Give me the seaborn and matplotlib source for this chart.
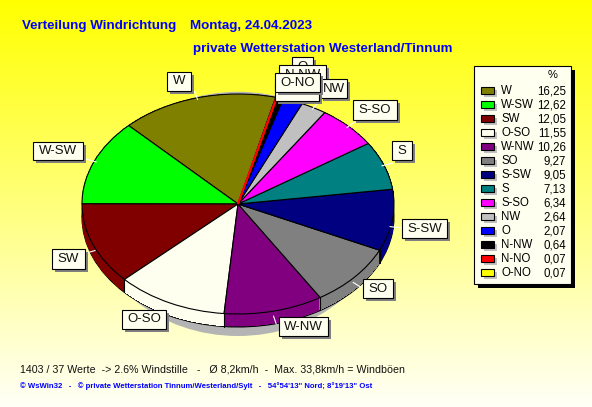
import numpy as np
import matplotlib
matplotlib.use("Agg")
import matplotlib.pyplot as plt
from matplotlib.patches import Rectangle, Ellipse
import seaborn as sns

richtung = ["W", "W-SW", "SW", "O-SO", "W-NW", "SO", "S-SW", "S", "S-SO", "NW", "O", "N-NW", "N-NO", "O-NO"]
prozent = [16.25, 12.62, 12.05, 11.55, 10.26, 9.27, 9.05, 7.13, 6.34, 2.64, 2.07, 0.64, 0.07, 0.07]
prozent_text = ["16,25", "12,62", "12,05", "11,55", "10,26", "9,27", "9,05", "7,13", "6,34", "2,64", "2,07", "0,64", "0,07", "0,07"]
farben = ["#808000", "#00ff00", "#800000", "#fffff0", "#800080", "#808080", "#000080",
          "#008080", "#ff00ff", "#c0c0c0", "#0000ff", "#000000", "#ff0000", "#ffff00"]

# label boxes in pixels: left, top, width, height (drawn in this order)
label_boxes = {
    "O": (292, 57, 21, 19), "N-NW": (279, 65, 47, 19), "NW": (320, 79, 27, 19),
    "N-NO": (275, 82, 44, 19), "O-NO": (275, 73, 45, 19), "S-SO": (353, 100, 44, 20),
    "S": (392, 141, 20, 19), "S-SW": (402, 219, 45, 19), "SO": (363, 279, 30, 19),
    "W-NW": (279, 317, 49, 19), "O-SO": (122, 310, 44, 19), "SW": (52, 249, 33, 20),
    "W-SW": (33, 142, 50, 18), "W": (167, 72, 24, 19),
}

W, H = 592, 407
sns.set_theme(style="white")
plt.rcParams["font.family"] = ["Liberation Sans", "DejaVu Sans"]
palette = sns.color_palette(farben)

fig = plt.figure(figsize=(W / 100, H / 100), dpi=100)

# background, yellow fading to almost white
bg = fig.add_axes([0, 0, 1, 1], zorder=0)
verlauf = np.ones((H, 1, 3))
verlauf[:, 0, 2] = np.linspace(0, 0.97, H)
bg.imshow(verlauf, aspect="auto")
bg.axis("off")

# pie, squashed to an ellipse
cx, cy, rx, ry, tiefe = 238, 204, 156, 110, 13
ax = fig.add_axes([(cx - rx) / W, 1 - (cy + ry) / H, 2 * rx / W, 2 * ry / H], zorder=1)
start = 76

ax.add_patch(Ellipse((0.0, -0.09), 1.87, 2.22, facecolor="#b4b4b4", edgecolor="none", clip_on=False))

# rim, built from stacked pies
keile, _ = ax.pie(prozent, colors=palette, startangle=start, center=(0, -tiefe / ry), radius=1,
                  wedgeprops=dict(linewidth=0.8, edgecolor="black"))
for k in keile:
    k.set_clip_on(False)
for off in np.arange(tiefe - 1, -0.5, -1.0):
    keile, _ = ax.pie(prozent, colors=palette, startangle=start, center=(0, -off / ry), radius=1,
                      wedgeprops=dict(linewidth=0, antialiased=False))
    for k in keile:
        k.set_clip_on(False)

# slice borders on the rim
grenzen = start + np.cumsum(prozent) * 3.6
for g in grenzen:
    if np.sin(np.radians(g)) < 0:
        x = np.cos(np.radians(g))
        y = np.sin(np.radians(g))
        ax.plot([x, x], [y, y - tiefe / ry], color="black", lw=0.8, clip_on=False)

keile, _ = ax.pie(prozent, colors=palette, startangle=start, radius=1,
                  wedgeprops=dict(linewidth=0.8, edgecolor="black"))
for k in keile:
    k.set_clip_on(False)
# the N-NO sliver is thinner than its outline, keep it visible
keile[12].set_edgecolor("#ff0000")
keile[12].set_linewidth(1.3)
keile[12].set_zorder(5)

# white leader lines from the rim towards the labels
mitte = start + (np.cumsum(prozent) - np.array(prozent) / 2) * 3.6
for m in mitte:
    x, y = np.cos(np.radians(m)), np.sin(np.radians(m))
    ax.plot([x * 0.985, x * 1.06], [y * 0.985 - (0.06 if y < 0 else 0), y * 1.06 - (0.06 if y < 0 else 0)],
            color="white", lw=0.8, clip_on=False)

ax.set_aspect("auto")
ax.set_xlim(-1, 1)
ax.set_ylim(-1, 1)
ax.axis("off")

# overlay in pixel coordinates
ov = fig.add_axes([0, 0, 1, 1], zorder=2)
ov.set_xlim(0, W)
ov.set_ylim(H, 0)
ov.axis("off")

for i, (name, (l, t, b, h)) in enumerate(label_boxes.items()):
    z = 10 + i
    ov.add_patch(Rectangle((l + 3, t + 3), b, h, facecolor="#808080", edgecolor="none", zorder=z))
    ov.add_patch(Rectangle((l, t), b, h, facecolor="#fffff0", edgecolor="black", lw=0.8, zorder=z))
    ov.text(l + b / 2, t + h / 2, name, ha="center", va="center", fontsize=9.5, color="#111111", zorder=z)

# legend box
ov.add_patch(Rectangle((478, 70), 97, 218, facecolor="black", edgecolor="none"))
ov.add_patch(Rectangle((474, 66), 97, 218, facecolor="#fffff0", edgecolor="black", lw=0.8))
ov.text(553, 75, "%", ha="center", va="center", fontsize=8, color="black")
for i, (name, wert, farbe) in enumerate(zip(richtung, prozent_text, palette)):
    yy = 91 + i * 14
    ov.add_patch(Rectangle((484, yy - 1), 13, 7, facecolor="#c0c0c0", edgecolor="none"))
    ov.add_patch(Rectangle((481, yy - 4), 13, 7, facecolor=farbe, edgecolor="black", lw=0.8))
    ov.text(501, yy, name, ha="left", va="center", fontsize=8.3, color="black")
    ov.text(566, yy, wert, ha="right", va="center", fontsize=8.3, color="black")

ov.text(22, 26, "Verteilung Windrichtung", color="blue", fontweight="bold",
        fontsize=9.65, ha="left", va="center")
ov.text(190, 26, "Montag, 24.04.2023", color="blue", fontweight="bold",
        fontsize=9.65, ha="left", va="center")
ov.text(193, 49, "private Wetterstation Westerland/Tinnum", color="blue", fontweight="bold",
        fontsize=9.65, ha="left", va="center")
ov.text(20, 369, "1403 / 37 Werte  -> 2.6% Windstille   -   Ø 8,2km/h  -  Max. 33,8km/h = Windböen",
        color="#111111", fontsize=7.65, ha="left", va="center")
ov.text(20, 386, "© WsWin32   -   © private Wetterstation Tinnum/Westerland/Sylt   -   54°54'13\" Nord; 8°19'13\" Ost",
        color="blue", fontweight="bold", fontsize=5.55, ha="left", va="center")

fig.savefig("out.png", dpi=100)
